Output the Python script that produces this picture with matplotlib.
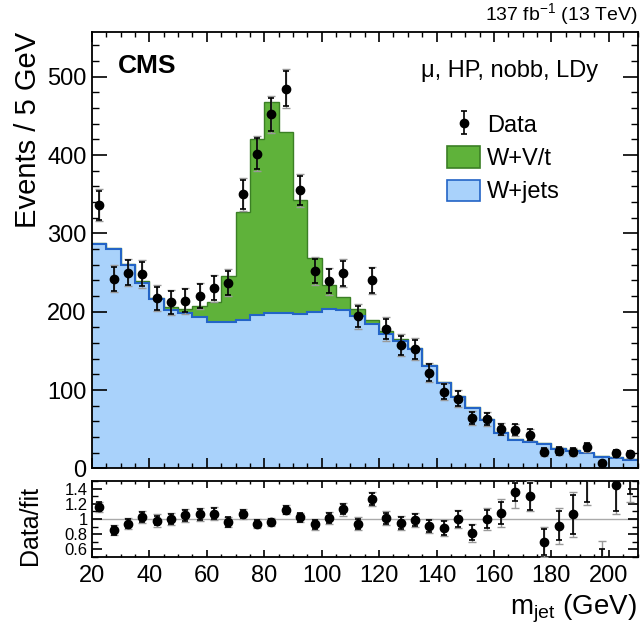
import numpy as np
import matplotlib
matplotlib.use("Agg")
import matplotlib.pyplot as plt
from matplotlib.ticker import MultipleLocator, FixedLocator, FormatStrFormatter
from matplotlib.patches import Patch

plt.rcParams['font.family'] = ['Liberation Sans', 'DejaVu Sans']
plt.rcParams['mathtext.fontset'] = 'custom'
plt.rcParams['mathtext.rm'] = 'Liberation Sans'
plt.rcParams['mathtext.it'] = 'Liberation Sans:italic'

# 5 GeV bins from 20 to 210 GeV
bin_edges = np.arange(20, 211, 5)
bin_centers = np.arange(22.5, 210, 5)

wjets = np.array([287, 280, 260, 237, 216, 202, 198, 193, 187, 187,
                  190, 196, 198, 198, 197, 199, 204, 202, 195, 184,
                  172, 163, 152, 131, 109, 91, 77, 62, 45, 36,
                  34, 31, 25, 22, 19, 15, 13, 11])
wvt = np.array([1, 1, 1, 2, 2, 4, 6, 14, 26, 58,
                137, 224, 270, 232, 146, 70, 30, 17, 8, 5,
                3, 2, 2, 1, 1, 1, 1, 1, 1, 1,
                1, 1, 1, 1, 1, 1, 1, 1])

data = np.array([336, 242, 250, 248, 217, 212, 214, 220, 230, 237,
                 350, 402, 452, 485, 355, 252, 239, 249, 194, 240,
                 178, 157, 152, 122, 98, 89, 64, 63, 50, 49,
                 43, 21, 22, 21, 27, 7, 19, 18])
data_err = np.array([18.3, 15.6, 15.8, 15.7, 14.7, 14.6, 14.6, 14.8, 15.2, 15.4,
                     18.7, 20.0, 21.3, 22.0, 18.8, 15.9, 15.5, 15.8, 13.9, 15.5,
                     13.3, 12.5, 12.3, 11.0, 9.9, 9.4, 8.0, 7.9, 7.1, 7.0,
                     6.6, 4.6, 4.7, 4.6, 5.2, 2.6, 4.4, 4.2])

ratio = np.array([1.16, 0.85, 0.94, 1.03, 0.98, 1.00, 1.05, 1.06, 1.07, 0.96,
                  1.07, 0.94, 0.96, 1.12, 1.02, 0.93, 1.01, 1.13, 0.94, 1.26,
                  1.01, 0.95, 0.99, 0.91, 0.88, 1.00, 0.82, 1.00, 1.08, 1.36,
                  1.30, 0.70, 0.91, 1.06, 1.60, 0.43, 1.45, 1.75])
ratio_err = np.array([0.06, 0.055, 0.06, 0.065, 0.065, 0.07, 0.07, 0.07, 0.07, 0.06,
                      0.055, 0.045, 0.045, 0.05, 0.055, 0.06, 0.065, 0.07, 0.065, 0.08,
                      0.075, 0.075, 0.08, 0.08, 0.09, 0.10, 0.10, 0.12, 0.15, 0.12,
                      0.18, 0.17, 0.19, 0.26, 0.38, 0.17, 0.34, 0.42])
ratio_err_gray = np.array([0.07, 0.065, 0.07, 0.08, 0.08, 0.085, 0.085, 0.085, 0.085, 0.07,
                           0.065, 0.055, 0.055, 0.06, 0.065, 0.07, 0.08, 0.085, 0.08, 0.095,
                           0.09, 0.09, 0.095, 0.095, 0.11, 0.12, 0.12, 0.14, 0.18, 0.22,
                           0.2, 0.2, 0.24, 0.3, 0.42, 0.28, 0.38, 0.52])

lumi_text = "137 fb$^{-1}$ (13 TeV)"
category_text = "\u03bc, HP, nobb, LDy"

GREEN = '#5fb23a'
GREEN_EDGE = '#3b7f25'
BLUE = '#a9d2fb'
BLUE_EDGE = '#2364c6'

fig = plt.figure(figsize=(6.43, 6.29), dpi=100)
W, H = 643.0, 629.0
ax = fig.add_axes([92 / W, 1 - 468.3 / H, 545.5 / W, 436.6 / H])
rax = fig.add_axes([92 / W, 1 - 557 / H, 545.5 / W, 76 / H])

# stacked histograms
total = wjets + wvt
ax.stairs(total, bin_edges, fill=True, facecolor=GREEN, edgecolor=GREEN_EDGE, linewidth=1.0)
ax.stairs(wjets, bin_edges, fill=True, facecolor=BLUE, edgecolor='none', linewidth=0)
ax.stairs(wjets, bin_edges, fill=False, color=BLUE_EDGE, linewidth=1.5, baseline=None)

# data points
ax.errorbar(bin_centers, data, yerr=data_err * 1.12, fmt='none', ecolor='#999999',
            elinewidth=1.0, capsize=2.8, capthick=1.0, zorder=4)
dat = ax.errorbar(bin_centers, data, yerr=data_err, fmt='o', color='black', markersize=6,
                  elinewidth=1.2, capsize=2.3, capthick=1.2, zorder=5)

ax.set_xlim(20, 210)
ax.set_ylim(0, 557.6)
ax.xaxis.set_major_locator(MultipleLocator(20))
ax.xaxis.set_minor_locator(MultipleLocator(5))
ax.yaxis.set_major_locator(MultipleLocator(100))
ax.yaxis.set_minor_locator(MultipleLocator(20))
ax.tick_params(axis='both', which='both', direction='in', top=True, right=True)
ax.tick_params(axis='y', which='major', length=11, width=1.2, labelsize=17, pad=4)
ax.tick_params(axis='y', which='minor', length=5, width=1.0)
ax.tick_params(axis='x', which='major', length=7, width=1.2, labelbottom=False)
ax.tick_params(axis='x', which='minor', length=3.5, width=1.0)
for s in ax.spines.values():
    s.set_linewidth(1.3)

ax.set_ylabel("Events / 5 GeV", fontsize=21, loc='top')
ax.yaxis.set_label_coords(-0.092, 1.0)

ax.text(0.047, 0.95, "CMS", transform=ax.transAxes, fontsize=19, fontweight='bold',
        ha='left', va='top')
ax.text(0.928, 0.935, category_text, transform=ax.transAxes, fontsize=17,
        ha='right', va='top')
ax.text(1.0, 1.01, lumi_text, transform=ax.transAxes, fontsize=14,
        ha='right', va='bottom')

handles = [dat,
           Patch(facecolor=GREEN, edgecolor=GREEN_EDGE, linewidth=1.2),
           Patch(facecolor=BLUE, edgecolor=BLUE_EDGE, linewidth=1.2)]
labels = ["Data", "W+V/t", "W+jets"]
ax.legend(handles, labels, loc='upper left', bbox_to_anchor=(0.651, 0.813),
          frameon=False, fontsize=17, handlelength=1.4, handleheight=1.0,
          handletextpad=0.3, labelspacing=0.4, borderpad=0, borderaxespad=0)

# ratio panel
rax.axhline(1.0, color='#aaaaaa', linewidth=1.0, zorder=1)
rax.errorbar(bin_centers, ratio, yerr=ratio_err_gray, fmt='none', ecolor='#999999',
             elinewidth=1.0, capsize=2.8, capthick=1.0, zorder=4)
rax.errorbar(bin_centers, ratio, yerr=ratio_err, fmt='o', color='black', markersize=6,
             elinewidth=1.2, capsize=2.3, capthick=1.2, zorder=5)
rax.set_xlim(20, 210)
rax.set_ylim(0.5, 1.5)
rax.xaxis.set_major_locator(MultipleLocator(20))
rax.xaxis.set_minor_locator(MultipleLocator(5))
rax.yaxis.set_major_locator(FixedLocator([0.6, 0.8, 1.0, 1.2, 1.4]))
rax.yaxis.set_minor_locator(MultipleLocator(0.1))
rax.yaxis.set_major_formatter(FormatStrFormatter('%g'))
rax.tick_params(axis='both', which='both', direction='in', top=True, right=True)
rax.tick_params(axis='y', which='major', length=7, width=1.2, labelsize=12, pad=3)
rax.tick_params(axis='y', which='minor', length=4, width=1.0)
rax.tick_params(axis='x', which='major', length=5, width=1.2, labelsize=17, pad=6)
rax.tick_params(axis='x', which='minor', length=2.5, width=1.0)
for s in rax.spines.values():
    s.set_linewidth(1.3)

rax.set_ylabel("Data/fit", fontsize=18)
rax.yaxis.set_label_coords(-0.092, 0.42)
rax.set_xlabel(r"m$_{\mathrm{jet}}$ (GeV)", fontsize=20, loc='right')
rax.xaxis.set_label_coords(0.998, -0.47)

fig.savefig("out.png", dpi=100)
